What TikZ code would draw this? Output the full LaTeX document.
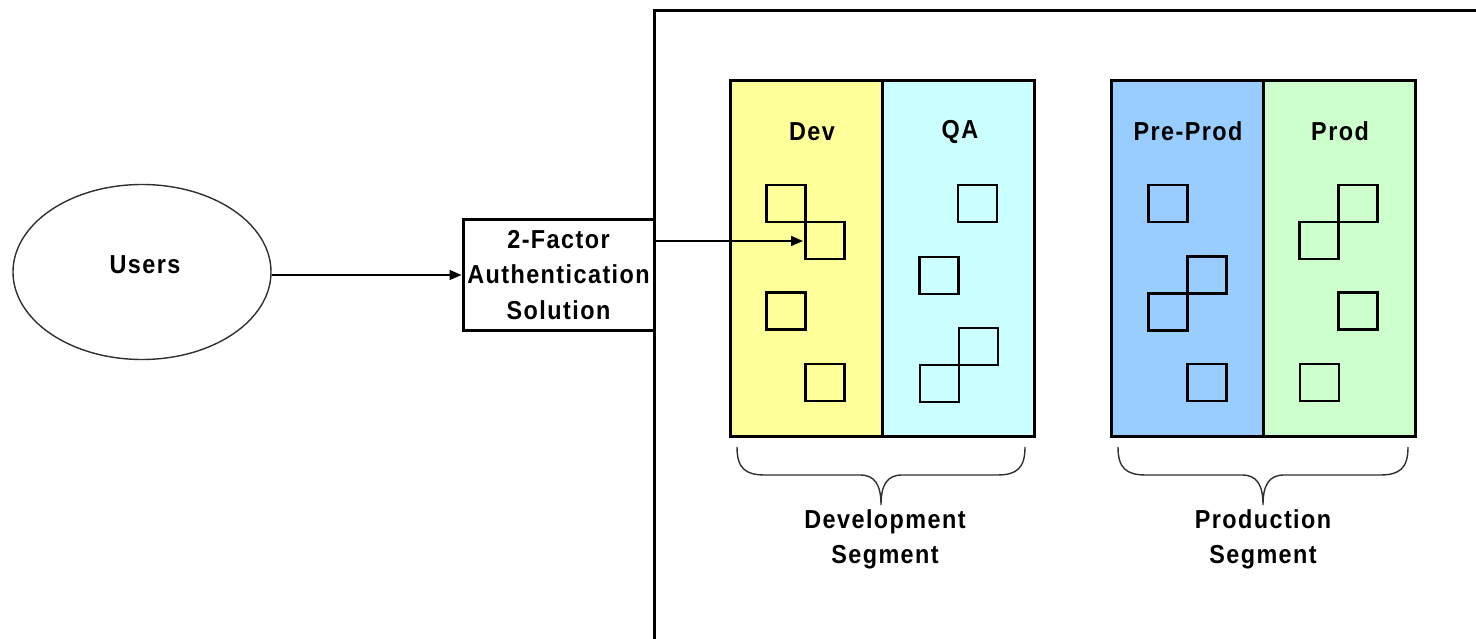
\documentclass[tikz,border=0pt]{standalone}
\usepackage{fontspec}
\setmainfont{Liberation Sans}[FakeStretch=0.9, LetterSpace=5.5]
\usetikzlibrary{shapes.geometric,arrows.meta,positioning}
\definecolor{devyel}{HTML}{FFFF99}
\definecolor{qacyan}{HTML}{CCFFFF}
\definecolor{ppblue}{HTML}{99CCFF}
\definecolor{prgreen}{HTML}{CCFFCC}
\definecolor{thinline}{HTML}{303030}
\begin{document}
\begin{tikzpicture}[x=1pt,y=-1pt,
  lbl/.style={font=\bfseries\fontsize{26}{35.5}\selectfont, inner sep=0pt, align=center},
  envbox/.style={draw=black, line width=3pt, minimum width=152pt, minimum height=355pt, inner sep=0pt},
  sq/.style={draw=black, line width=2.8pt, minimum width=39pt, minimum height=37pt, inner sep=0pt, outer sep=0pt},
  thinarrow/.style={draw=black, line width=1.4pt, -{Triangle[length=12pt,width=10pt]}},
  bracepath/.style={draw=thinline, line width=1.4pt}
]
\useasboundingbox (0,0) rectangle (1476,639);
\fill[white] (0,0) rectangle (1476,639);

% outer frame (open to right and bottom)
\draw[line width=3pt] (1478,11) -- (654,11) -- (654,641);

% users
\node (users) [ellipse, draw=thinline, line width=1.4pt, minimum width=258pt, minimum height=175pt, inner sep=0pt] at (142,272) {};
\node (userslbl) [lbl] at (145,265) {Users};

% auth box
\node (auth) [draw=black, line width=3pt, minimum width=191pt, minimum height=110pt, inner sep=0pt, lbl] at (558.5,275) {2-Factor\\Authentication\\Solution};

% environments
\node (dev) [envbox, fill=devyel] at (806,258.5) {};
\node (qa) [envbox, fill=qacyan] at (958,258.5) {};
\node (pp) [envbox, fill=ppblue] at (1187,258.5) {};
\node (prod) [envbox, fill=prgreen] at (1339,258.5) {};

\node (devlbl) [lbl] at (812,131.5) {Dev};
\node (qalbl) [lbl] at (960,131.5) {QA};
\node (pplbl) [lbl] at (1188,131.5) {Pre-Prod};
\node (prodlbl) [lbl] at (1340,131.5) {Prod};

% squares Dev
\node (d1) [sq] at (786,203.5) {};
\node (d2) [sq, anchor=north west] at (d1.south east) {};
\node (d3) [sq] at (786,311) {};
\node (d4) [sq] at (825,382.5) {};
% squares QA
\node (q1) [sq] at (977.5,203.5) {};
\node (q2) [sq] at (939,275.5) {};
\node (q3) [sq] at (978.5,346.5) {};
\node (q4) [sq, anchor=north east] at (q3.south west) {};
% squares Pre-Prod
\node (p1) [sq] at (1168,203.5) {};
\node (p2) [sq] at (1207,275) {};
\node (p3) [sq, anchor=north east] at (p2.south west) {};
\node (p4) [sq] at (1207,382.5) {};
% squares Prod
\node (r1) [sq] at (1358,203.5) {};
\node (r2) [sq, anchor=north east] at (r1.south west) {};
\node (r3) [sq] at (1358,311) {};
\node (r4) [sq] at (1319.5,382.5) {};

% connectors
\draw[thinarrow] (users.east |- auth.west) -- (auth.west);
\coordinate (devtip) at (803,241);
\draw[thinarrow] (auth.east |- devtip) -- (devtip);

% braces
\draw[bracepath] (737,447) .. controls (737,468) and (745,475) .. (765,475) -- (860,475)
  .. controls (875,475) and (881,485) .. (881,505)
  .. controls (881,485) and (887,475) .. (902,475) -- (997,475)
  .. controls (1017,475) and (1025,468) .. (1025,447);
\draw[bracepath] (1118,447) .. controls (1118,468) and (1126,475) .. (1146,475) -- (1242,475)
  .. controls (1257,475) and (1263,485) .. (1263,505)
  .. controls (1263,485) and (1269,475) .. (1284,475) -- (1380,475)
  .. controls (1400,475) and (1408,468) .. (1408,447);

\node (devseg) [lbl] at (885,539.5) {Development\\Segment};
\node (prodseg) [lbl] at (1263,539.5) {Production\\Segment};
\end{tikzpicture}
\end{document}
